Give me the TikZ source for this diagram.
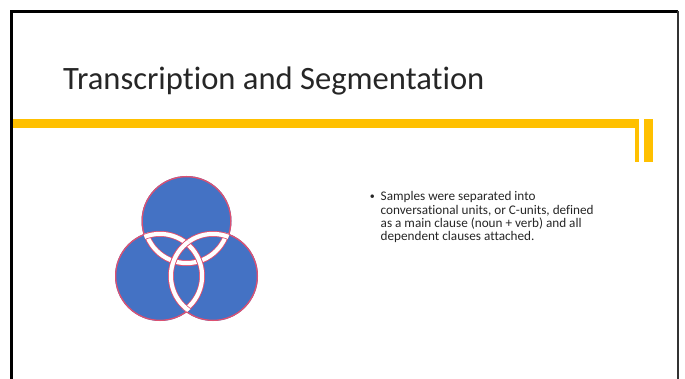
\documentclass[tikz,border=0pt]{standalone}
\usepackage{fontspec}
\setmainfont{Carlito}[Ligatures=NoCommon]
\usetikzlibrary{positioning}
\definecolor{barYellow}{HTML}{FFC000}
\definecolor{vennBlue}{HTML}{4472C4}
\definecolor{vennEdge}{RGB}{222,80,112}

\begin{document}
\begin{tikzpicture}[x=1pt, y=-1pt,
	vennfill/.style={fill=vennBlue},
	vennline/.style={draw=vennEdge, line width=1.3pt},
	vennring/.style={draw=vennEdge, line width=0.8pt, double=white, double distance=4.2pt}]
	\useasboundingbox (0,0) rectangle (685,379);
	%Yellow bar
		\fill[barYellow] (10,119) rectangle (639,128.5);
		\fill[barYellow] (635,119) rectangle (639,162);
		\fill[barYellow] (644,119) rectangle (653,162);
	%Frame
		\draw[line width=3pt] (11.5,379) -- (11.5,11.5) -- (678,11.5);
		\draw[line width=2.5pt, black!80] (678,11.5) -- (678,379);
	%Title
		\node[anchor=base west, inner sep=0pt, font=\fontsize{32.6}{38}\selectfont, text=black!85] (title) at (63,90) {Transcription and Segmentation};
	%Venn circles
		\coordinate (top) at (186.5,221);
		\coordinate (left) at (160,276);
		\coordinate (right) at (213,276);
		\foreach \c in {top, left, right}
			\fill[vennfill] (\c) circle (45);
		\foreach \c in {top, left, right}
			\draw[vennline] (\c) circle (44.35);
	%White bands where circles overlap
		\foreach \me/\other in {top/left, top/right, left/top, left/right, right/top, right/left}{
			\begin{scope}
				\clip (\other) circle (45);
				\draw[vennring] (\me) circle (42.1);
			\end{scope}
		}
	%Bullet text
		\node[anchor=north west, inner sep=0pt, align=left, font=\fontsize{13.2}{13.3}\selectfont, text=black!85] (points) at (380.5,191.5) {Samples were separated into\\conversational units, or C-units, defined\\as a main clause (noun + verb) and all\\dependent clauses attached.};
		\node[anchor=base east, inner sep=0pt, font=\fontsize{10}{12}\selectfont, text=black!85] (dot) at (375,200) {•};
\end{tikzpicture}
\end{document}
